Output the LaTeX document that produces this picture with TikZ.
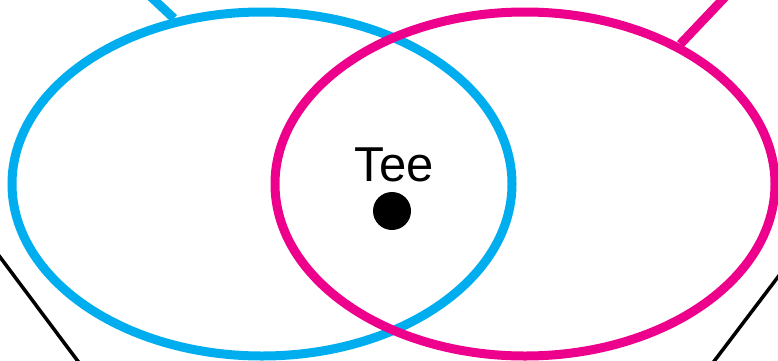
\documentclass[tikz,border=0pt]{standalone}
\usepackage{fontspec}
\setmainfont{Liberation Sans}
\usetikzlibrary{shapes.geometric}
\definecolor{vcyan}{HTML}{00AEEF}
\definecolor{vmag}{HTML}{EC008C}
\begin{document}
\begin{tikzpicture}[x=1pt,y=1pt,
  setring/.style={ellipse,draw=#1,line width=9pt,inner sep=0pt,minimum width=500pt,minimum height=344pt},
  blackline/.style={line width=3.5pt,black}]
\useasboundingbox (0,0) rectangle (778,360);
\node[setring=vcyan] (cy) at (262,176) {};
\node[setring=vmag] (mg) at (525,176) {};
\node[font=\fontsize{49}{55}\selectfont,inner sep=0pt] (tee) at (394,195) {Tee};
\node[circle,fill=black,inner sep=0pt,minimum size=38pt] (dot) at (392,149) {};
\coordinate (cyfree) at (150,364);
\coordinate (mgfree) at (726,364);
\draw[vcyan,line width=9pt] (cyfree) -- (cy.118);
\draw[vmag,line width=9pt] (mgfree) -- (mg.42);
\coordinate (bl1) at (-6,111);
\coordinate (bl2) at (80,-4);
\coordinate (br1) at (784,91);
\coordinate (br2) at (712,-4);
\draw[blackline] (bl1) -- (bl2);
\draw[blackline] (br1) -- (br2);
\end{tikzpicture}
\end{document}
